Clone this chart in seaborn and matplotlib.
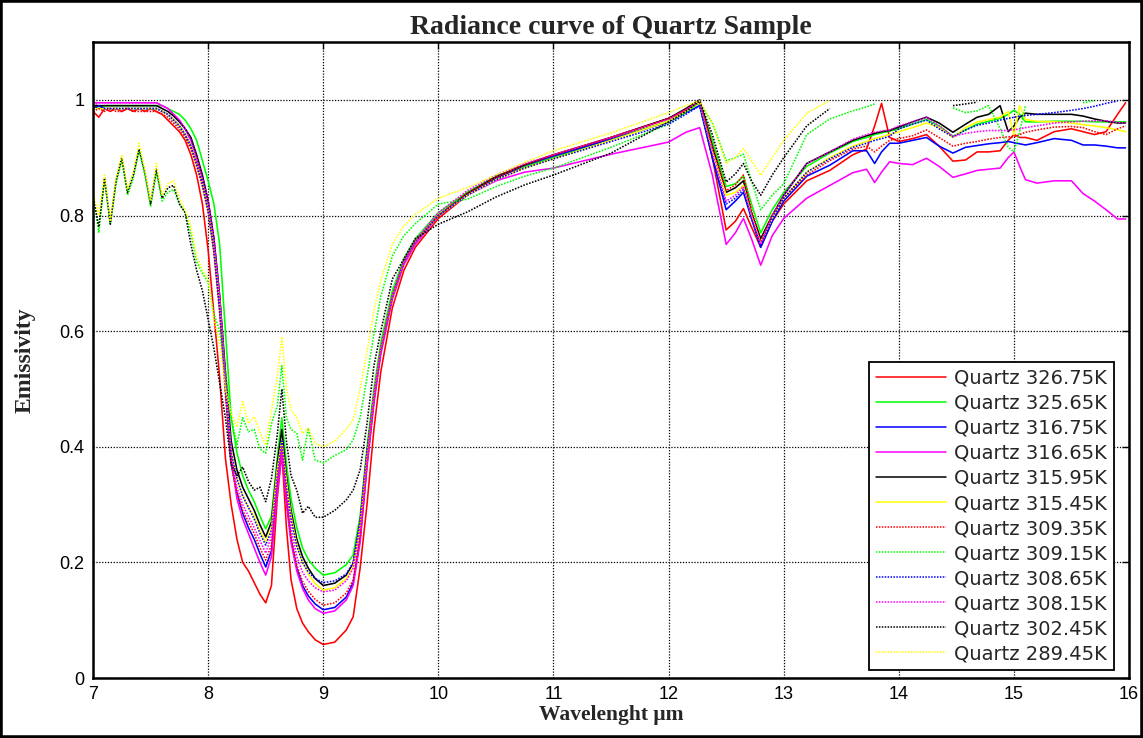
import numpy as np
import pandas as pd
import matplotlib
matplotlib.use("Agg")
import matplotlib.pyplot as plt
from matplotlib.patches import Rectangle
from matplotlib.ticker import FuncFormatter
import seaborn as sns

sns.set_style("white")
plt.rcParams['font.family'] = ['Liberation Sans', 'DejaVu Sans']

nan = np.nan

# wavelength knots (um)
wl = [7.0, 7.05, 7.1, 7.15, 7.2, 7.25, 7.3, 7.35, 7.4, 7.45, 7.5, 7.55, 7.6, 7.65, 7.7, 7.75, 7.8,
      7.85, 7.9, 7.95, 8.0, 8.05, 8.1, 8.15, 8.2, 8.25, 8.3, 8.35, 8.4, 8.45, 8.5, 8.55, 8.6,
      8.64, 8.68, 8.72, 8.77, 8.82, 8.87, 8.93, 9.0, 9.1, 9.2, 9.26, 9.32, 9.38, 9.44, 9.5, 9.6, 9.7, 9.8,
      10.0, 10.25, 10.5, 10.75, 11.0, 11.5, 12.0, 12.15, 12.27, 12.38, 12.5, 12.58, 12.65, 12.72, 12.8, 12.9, 13.0,
      13.2, 13.4, 13.6, 13.72, 13.79, 13.85, 13.92, 14.0, 14.12, 14.24, 14.35, 14.47, 14.58, 14.68,
      14.78, 14.88, 14.95, 15.0, 15.05, 15.1, 15.2, 15.35, 15.5, 15.6, 15.7, 15.8, 15.9, 15.97]

q326_75 = [0.98, 0.97, 0.985, 0.98, 0.985, 0.98, 0.985, 0.98, 0.985, 0.98, 0.985, 0.98, 0.975, 0.965, 0.955, 0.945, 0.93,
           0.905, 0.87, 0.82, 0.74, 0.63, 0.52, 0.38, 0.30, 0.24, 0.20, 0.185, 0.165, 0.145, 0.13, 0.16, 0.31,
           0.39, 0.26, 0.17, 0.12, 0.095, 0.08, 0.066, 0.058, 0.062, 0.083, 0.106, 0.19, 0.30, 0.43, 0.53, 0.64, 0.705, 0.745,
           0.795, 0.835, 0.865, 0.885, 0.9, 0.935, 0.968, 0.982, 0.995, 0.9, 0.775, 0.79, 0.812, 0.78, 0.745, 0.79, 0.82,
           0.86, 0.878, 0.905, 0.915, 0.955, 0.994, 0.935, 0.928, 0.933, 0.94, 0.92, 0.894, 0.896, 0.91,
           0.91, 0.912, 0.93, 0.94, 0.935, 0.935, 0.93, 0.945, 0.95, 0.945, 0.94, 0.945, 0.975, 0.995]

q325_65 = [0.99, 0.985] + [0.99] * 11 + [0.985, 0.98, 0.975, 0.965,
           0.95, 0.93, 0.895, 0.86, 0.82, 0.75, 0.6, 0.45, 0.39, 0.35, 0.325, 0.305, 0.28, 0.258, 0.28, 0.38,
           0.45, 0.37, 0.31, 0.26, 0.225, 0.205, 0.19, 0.178, 0.182, 0.196, 0.213, 0.28, 0.4, 0.5, 0.58, 0.67, 0.725, 0.76,
           0.805, 0.84, 0.868, 0.885, 0.9, 0.932, 0.963, 0.98, 0.998, 0.93, 0.85, 0.855, 0.868, 0.82, 0.77, 0.81, 0.84,
           0.885, 0.908, 0.928, 0.935, 0.94, 0.943, 0.946, 0.95, 0.958, 0.966, 0.955, 0.937, 0.948, 0.958,
           0.963, 0.968, 0.975, 0.982, 0.975, 0.962, 0.962, 0.963, 0.963, 0.963, 0.962, 0.962, 0.962, 0.962]

q316_75 = [0.985, 0.99] + [0.985] * 10 + [0.98, 0.975, 0.965, 0.955, 0.94,
           0.92, 0.89, 0.855, 0.81, 0.74, 0.64, 0.5, 0.37, 0.32, 0.285, 0.26, 0.24, 0.215, 0.192, 0.22, 0.33,
           0.40, 0.31, 0.24, 0.19, 0.16, 0.142, 0.128, 0.118, 0.122, 0.14, 0.165, 0.24, 0.37, 0.48, 0.565, 0.66, 0.72, 0.755,
           0.80, 0.835, 0.865, 0.887, 0.903, 0.932, 0.962, 0.978, 0.99, 0.9, 0.81, 0.825, 0.84, 0.795, 0.745, 0.79, 0.825,
           0.868, 0.887, 0.912, 0.912, 0.89, 0.91, 0.925, 0.925, 0.93, 0.935, 0.92, 0.908, 0.918, 0.921,
           0.924, 0.926, 0.928, 0.926, 0.924, 0.922, 0.926, 0.933, 0.93, 0.922, 0.922, 0.92, 0.917, 0.917]

q316_65 = [0.995] * 12 + [0.99, 0.985, 0.975, 0.965, 0.95,
           0.93, 0.90, 0.865, 0.825, 0.76, 0.66, 0.52, 0.38, 0.31, 0.275, 0.25, 0.225, 0.2, 0.178, 0.21, 0.32,
           0.39, 0.3, 0.235, 0.185, 0.155, 0.135, 0.12, 0.112, 0.116, 0.135, 0.16, 0.235, 0.365, 0.475, 0.56, 0.655, 0.715, 0.75,
           0.80, 0.835, 0.86, 0.875, 0.882, 0.906, 0.927, 0.944, 0.952, 0.87, 0.75, 0.77, 0.795, 0.76, 0.714, 0.765, 0.795,
           0.83, 0.852, 0.874, 0.88, 0.857, 0.875, 0.893, 0.89, 0.888, 0.899, 0.885, 0.866, 0.872, 0.878,
           0.88, 0.882, 0.9, 0.91, 0.885, 0.862, 0.856, 0.86, 0.86, 0.838, 0.825, 0.81, 0.794, 0.794]

q315_95 = [0.99] * 12 + [0.985, 0.98, 0.972, 0.962, 0.95,
           0.935, 0.905, 0.87, 0.825, 0.76, 0.66, 0.53, 0.41, 0.36, 0.33, 0.31, 0.29, 0.265, 0.244, 0.27, 0.37,
           0.43, 0.35, 0.29, 0.24, 0.21, 0.19, 0.172, 0.16, 0.164, 0.178, 0.198, 0.27, 0.39, 0.49, 0.57, 0.66, 0.72, 0.755,
           0.80, 0.838, 0.867, 0.888, 0.905, 0.935, 0.968, 0.985, 1.0, 0.92, 0.84, 0.848, 0.86, 0.805, 0.76, 0.8, 0.835,
           0.89, 0.91, 0.93, 0.938, 0.942, 0.945, 0.947, 0.953, 0.962, 0.97, 0.96, 0.944, 0.958, 0.97,
           0.975, 0.99, 0.945, 0.955, 0.97, 0.977, 0.975, 0.975, 0.975, 0.972, 0.967, 0.963, 0.96, 0.96]

q315_45 = [0.985] * 12 + [0.98, 0.975, 0.965, 0.955, 0.94,
           0.92, 0.89, 0.855, 0.81, 0.745, 0.65, 0.51, 0.39, 0.345, 0.315, 0.295, 0.28, 0.255, 0.235, 0.26, 0.36,
           0.41, 0.34, 0.28, 0.23, 0.2, 0.18, 0.163, 0.152, 0.156, 0.172, 0.193, 0.265, 0.385, 0.49, 0.57, 0.66, 0.72, 0.755,
           0.80, 0.835, 0.862, 0.882, 0.898, 0.93, 0.963, 0.98, 0.995, 0.91, 0.835, 0.84, 0.852, 0.8, 0.752, 0.795, 0.83,
           0.875, 0.9, 0.92, 0.928, 0.933, 0.936, 0.94, 0.945, 0.952, 0.96, 0.952, 0.935, 0.952, 0.962,
           0.966, 0.97, 0.98, 0.94, 0.99, 0.966, 0.963, 0.962, 0.96, 0.957, 0.955, 0.952, 0.948, 0.945]

q309_35 = [0.98, 0.985, 0.98, 0.985, 0.98, 0.98, 0.985, 0.98, 0.98, 0.98, 0.98, 0.98, 0.975, 0.97, 0.96, 0.95, 0.935,
           0.915, 0.885, 0.85, 0.805, 0.735, 0.63, 0.49, 0.37, 0.32, 0.29, 0.27, 0.25, 0.225, 0.204, 0.23, 0.34,
           0.40, 0.31, 0.245, 0.195, 0.167, 0.15, 0.136, 0.126, 0.13, 0.147, 0.17, 0.245, 0.37, 0.48, 0.565, 0.66, 0.72, 0.755,
           0.80, 0.838, 0.866, 0.888, 0.905, 0.935, 0.967, 0.983, 0.998, 0.92, 0.843, 0.853, 0.87, 0.81, 0.755, 0.8, 0.83,
           0.87, 0.895, 0.915, 0.92, 0.91, 0.92, 0.93, 0.933, 0.938, 0.948, 0.935, 0.92, 0.925, 0.928,
           0.932, 0.935, 0.936, 0.936, 0.94, 0.944, 0.948, 0.953, 0.954, 0.952, 0.945, 0.94, 0.95, 0.955]

q309_15 = [0.835, 0.77, 0.862, 0.785, 0.855, 0.895, 0.835, 0.865, 0.912, 0.87, 0.815, 0.875, 0.825, 0.84, 0.845, 0.82, 0.805,
           0.77, 0.72, 0.70, 0.685, 0.63, 0.6, 0.53, 0.45, 0.404, 0.45, 0.426, 0.43, 0.396, 0.389, 0.44, 0.47,
           0.54, 0.45, 0.43, 0.423, 0.377, 0.432, 0.377, 0.372, 0.385, 0.395, 0.412, 0.45, 0.52, 0.595, 0.66, 0.73, 0.765, 0.786,
           0.82, 0.828, 0.85, 0.868, 0.882, 0.918, 0.958, 0.978, 0.995, 0.96, 0.895, 0.9, 0.906, 0.86, 0.81, 0.835, 0.855,
           0.94, 0.967, 0.981, 0.988, 0.993, nan, nan, nan, nan, nan, nan, 0.986, 0.978, 0.981,
           0.99, 0.95, 0.918, 0.91, 0.945, 0.99, nan, nan, nan, 0.995, 0.999, nan, nan, nan]

q308_65 = [0.985, 0.99] + [0.985] * 10 + [0.98, 0.975, 0.965, 0.955, 0.94,
           0.92, 0.89, 0.855, 0.81, 0.745, 0.645, 0.51, 0.39, 0.345, 0.315, 0.295, 0.275, 0.25, 0.23, 0.255, 0.35,
           0.41, 0.33, 0.275, 0.228, 0.2, 0.183, 0.172, 0.165, 0.168, 0.18, 0.2, 0.27, 0.39, 0.49, 0.57, 0.66, 0.72, 0.755,
           0.80, 0.835, 0.862, 0.882, 0.898, 0.928, 0.958, 0.975, 0.99, 0.9, 0.82, 0.83, 0.845, 0.795, 0.748, 0.795, 0.83,
           0.875, 0.898, 0.918, 0.925, 0.93, 0.933, 0.937, 0.95, 0.958, 0.965, 0.95, 0.936, 0.948, 0.956,
           0.96, 0.965, 0.968, 0.97, 0.972, 0.973, 0.975, 0.978, 0.982, 0.985, 0.989, 0.994, 0.998, nan]

q308_15 = [0.99] + [0.995] * 11 + [0.99, 0.985, 0.975, 0.965, 0.95,
           0.93, 0.9, 0.865, 0.825, 0.76, 0.66, 0.52, 0.385, 0.33, 0.3, 0.28, 0.26, 0.238, 0.216, 0.245, 0.345,
           0.40, 0.32, 0.26, 0.21, 0.183, 0.168, 0.156, 0.149, 0.152, 0.168, 0.19, 0.26, 0.38, 0.485, 0.567, 0.66, 0.72, 0.757,
           0.805, 0.843, 0.87, 0.89, 0.905, 0.935, 0.967, 0.983, 0.998, 0.91, 0.825, 0.835, 0.85, 0.8, 0.75, 0.8, 0.835,
           0.89, 0.91, 0.932, 0.94, 0.944, 0.946, 0.948, 0.955, 0.962, 0.97, 0.955, 0.937, 0.942, 0.945,
           0.947, 0.947, 0.947, 0.948, 0.95, 0.952, 0.955, 0.96, 0.962, 0.963, 0.964, 0.964, 0.961, 0.96]

q302_45 = [0.835, 0.78, 0.865, 0.785, 0.86, 0.9, 0.84, 0.87, 0.915, 0.875, 0.82, 0.88, 0.83, 0.848, 0.852, 0.82, 0.805,
           0.75, 0.705, 0.67, 0.62, 0.57, 0.51, 0.45, 0.37, 0.35, 0.365, 0.34, 0.325, 0.33, 0.305, 0.345, 0.42,
           0.50, 0.41, 0.35, 0.325, 0.285, 0.297, 0.278, 0.278, 0.29, 0.308, 0.325, 0.36, 0.44, 0.54, 0.6, 0.69, 0.725, 0.76,
           0.785, 0.806, 0.832, 0.853, 0.87, 0.908, 0.962, 0.98, 0.998, 0.94, 0.858, 0.872, 0.89, 0.86, 0.835, 0.87, 0.9,
           0.955, 0.985] + [nan] * 9 + [0.99, 0.993, 0.996] + [nan] * 14

q289_45 = [0.84, 0.8, 0.87, 0.79, 0.865, 0.905, 0.845, 0.875, 0.925, 0.88, 0.825, 0.89, 0.835, 0.855, 0.86, 0.83, 0.81,
           0.78, 0.73, 0.705, 0.69, 0.62, 0.58, 0.5, 0.458, 0.434, 0.478, 0.44, 0.452, 0.425, 0.403, 0.463, 0.52,
           0.59, 0.5, 0.463, 0.45, 0.423, 0.432, 0.406, 0.40, 0.41, 0.43, 0.446, 0.5, 0.565, 0.635, 0.688, 0.75, 0.782, 0.802,
           0.83, 0.848, 0.87, 0.892, 0.912, 0.943, 0.978, 0.99, 0.998, 0.96, 0.89, 0.9, 0.916, 0.895, 0.87, 0.9, 0.93,
           0.977, 0.999] + [nan] * 26

labels = ['Quartz 326.75K', 'Quartz 325.65K', 'Quartz 316.75K', 'Quartz 316.65K',
          'Quartz 315.95K', 'Quartz 315.45K', 'Quartz 309.35K', 'Quartz 309.15K',
          'Quartz 308.65K', 'Quartz 308.15K', 'Quartz 302.45K', 'Quartz 289.45K']
series = [q326_75, q325_65, q316_75, q316_65, q315_95, q315_45,
          q309_35, q309_15, q308_65, q308_15, q302_45, q289_45]
colors = ['#ff0000', '#00ff00', '#0000ff', '#ff00ff', '#000000', '#ffff00'] * 2
styles = ['solid'] * 6 + ['dotted'] * 6

# long table, gaps (values above 1 in the original) split into separate units
frames = []
for lab, vals in zip(labels, series):
    v = np.array(vals, dtype=float)
    frames.append(pd.DataFrame({'wl': wl, 'emis': v, 'curve': lab,
                                'seg': np.cumsum(np.isnan(v))}).dropna())
data = pd.concat(frames, ignore_index=True)

palette = dict(zip(labels, colors))
dashes = {lab: ('' if s == 'solid' else (1, 0.9)) for lab, s in zip(labels, styles)}

fig, ax = plt.subplots(figsize=(11.43, 7.38), dpi=100)
fig.subplots_adjust(left=0.0814, right=0.9878, bottom=0.0813, top=0.943)

sns.lineplot(data=data, x='wl', y='emis', hue='curve', style='curve', units='seg',
             estimator=None, sort=False, palette=palette, dashes=dashes,
             hue_order=labels, style_order=labels, linewidth=1.15, ax=ax)

ax.set_xlim(7, 16)
ax.set_ylim(0, 1.1)
ax.set_xticks(range(7, 17))
ax.set_yticks([0, 0.2, 0.4, 0.6, 0.8, 1.0])
ax.yaxis.set_major_formatter(FuncFormatter(lambda v, p: '%g' % v))
ax.grid(True, color='k', linestyle=(0, (1, 1.3)), linewidth=0.9)
ax.set_axisbelow(True)
ax.tick_params(direction='in', top=True, right=True, length=5, width=1,
               labelsize=13, pad=6, colors='k')
for s in ax.spines.values():
    s.set_color('k')
    s.set_linewidth(1.8)

ax.set_title('Radiance curve of Quartz Sample', family='Liberation Serif',
             fontweight='bold', fontsize=20, pad=6)
ax.set_xlabel('Wavelenght μm', family='Liberation Serif', fontweight='bold', fontsize=15.5)
ax.set_ylabel('Emissivity', family='Liberation Serif', fontweight='bold', fontsize=17)
ax.xaxis.set_label_coords(0.5, -0.042)
ax.yaxis.set_label_coords(-0.055, 0.5)

handles, labs = ax.get_legend_handles_labels()
keep = [(h, l) for h, l in zip(handles, labs) if l in labels]
leg = ax.legend([h for h, l in keep], [l for h, l in keep], loc='lower right',
                bbox_to_anchor=(0.985, 0.0126), borderaxespad=0,
                prop={'family': 'DejaVu Sans', 'size': 14},
                labelspacing=0.31, handlelength=3.6, handletextpad=0.4,
                borderpad=0.35, fancybox=False, framealpha=1, edgecolor='k')
leg.get_frame().set_linewidth(1.3)
for line in leg.get_lines():
    line.set_linewidth(1.1)

fig.add_artist(Rectangle((0, 0), 1, 1, transform=fig.transFigure,
                         fill=False, edgecolor='k', linewidth=4))

fig.savefig('out.png', dpi=100)
